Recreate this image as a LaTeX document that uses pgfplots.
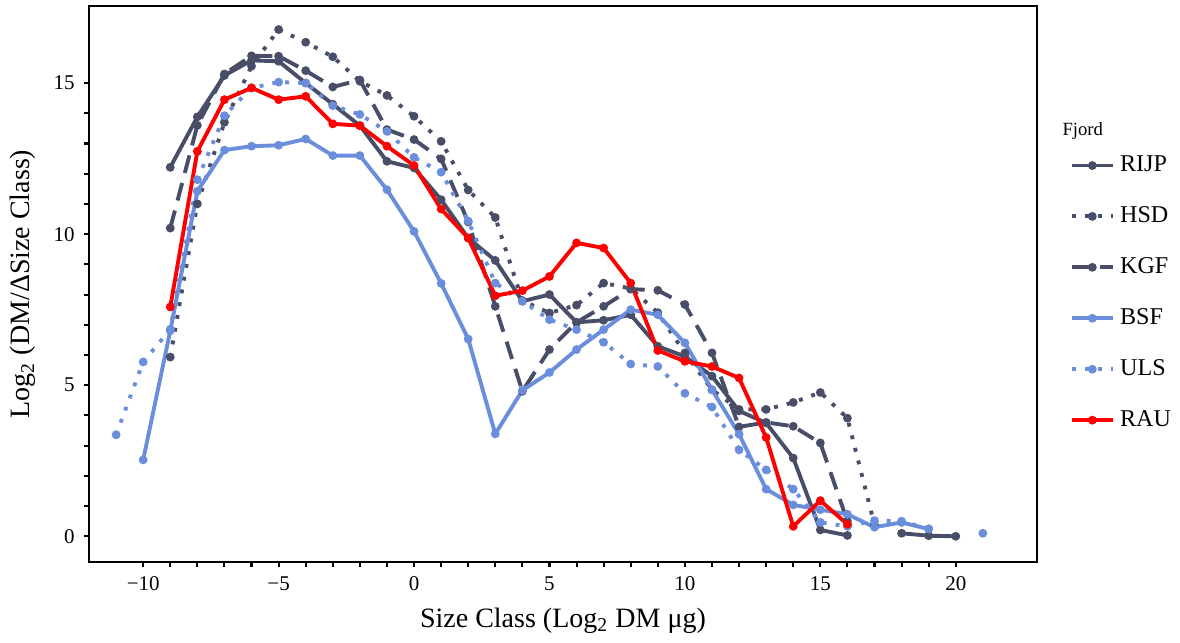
\documentclass[border=0pt]{standalone}
\usepackage{pgfplots}
\pgfplotsset{compat=1.18}
\usepackage{pgfplotstable}
\usepackage{fontspec}
\setmainfont{Liberation Serif}
\usetikzlibrary{calc}

\definecolor{dk}{RGB}{72,78,104}
\definecolor{lb}{RGB}{106,142,220}
\definecolor{rd}{RGB}{255,0,0}

% size class vs log2 biomass, one column per fjord
\pgfplotstableread{
x    RIJP   HSD    KGF    BSF    ULS    RAU
-11  nan    nan    nan    nan    3.36   nan
-10  nan    nan    nan    2.53   5.77   nan
-9   12.21  5.93   10.20  6.80   6.85   7.59
-8   13.88  11.00  13.60  11.42  11.80  12.74
-7   15.25  13.70  15.30  12.78  13.92  14.45
-6   15.75  15.56  15.90  12.91  14.84  14.84
-5   15.72  16.77  15.89  12.94  15.03  14.45
-4   15.00  16.35  15.41  13.15  15.00  14.56
-3   14.30  15.87  14.87  12.60  14.25  13.65
-2   13.59  15.06  15.10  12.60  13.96  13.59
-1   12.41  14.59  13.46  11.47  13.40  12.91
0    12.19  13.90  13.13  10.09  12.54  12.27
1    11.14  13.07  12.49  8.37   12.05  10.83
2    9.87   11.46  10.40  6.53   10.43  9.87
3    9.13   10.55  7.61   3.39   8.38   7.96
4    7.78   7.80   4.80   4.83   7.78   8.13
5    8.00   7.39   6.18   5.42   7.17   8.60
6    7.08   7.65   7.08   6.18   6.84   9.71
7    7.15   8.38   7.61   6.84   6.42   9.54
8    7.33   8.20   8.18   7.50   5.70   8.38
9    6.29   7.40   8.14   7.33   5.62   6.15
10   5.95   6.07   7.67   6.40   4.73   5.79
11   5.30   4.85   6.07   4.85   4.28   5.62
12   4.15   4.20   3.62   3.38   2.86   5.24
13   3.75   4.20   3.77   1.56   2.20   3.27
14   2.59   4.43   3.64   1.04   1.56   0.33
15   0.21   4.76   3.09   0.88   0.46   1.18
16   0.03   3.91   0.50   0.73   0.33   0.40
17   nan    0.38   nan    0.30   0.52   nan
18   0.10   nan    nan    0.46   0.50   nan
19   0.02   nan    nan    0.24   0.25   nan
20   0.00   nan    nan    nan    nan    nan
21   nan    nan    nan    nan    0.10   nan
}\fjord

\begin{document}
\begin{tikzpicture}
\begin{axis}[
  name=ax,
  scale only axis,
  width=12.854cm, height=7.539cm,
  xmin=-12, xmax=23,
  ymin=-0.85, ymax=17.55,
  xtick={-10,-5,0,5,10,15,20},
  xticklabels={−10,−5,0,5,10,15,20},
  ytick={0,5,10,15},
  minor x tick num=4,
  minor y tick num=4,
  xtick pos=lower, ytick pos=left,
  tick align=outside,
  major tick length=2pt, minor tick length=2pt,
  tick style={black, line width=0.8pt},
  axis line style={line width=1.1pt},
  /pgf/number format/assume math mode=true,
  tick label style={font=\fontsize{8.1}{9}\selectfont},
  label style={font=\fontsize{10.8}{12}\selectfont},
  xlabel={Size Class (Log\textsubscript{2} DM μg)},
  ylabel={Log\textsubscript{2} (DM/ΔSize Class)},
  unbounded coords=jump,
  clip=false,
  legend cell align=left,
  legend style={draw=none, fill=none, at={(rel axis cs:1.034,0.741)}, anchor=north west,
    font=\fontsize{9.3}{10}\selectfont, row sep=8pt, inner sep=0pt},
  legend image code/.code={\draw[mark repeat=2,mark phase=2,#1]
    plot coordinates {(0cm,0cm) (0.28cm,0cm) (0.56cm,0cm)};},
  every axis plot/.append style={line width=1.5pt, mark=*, mark size=0.9pt},
]
\addplot[dk, mark options={solid}] table[x=x, y=RIJP] {\fjord};
\addlegendentry{RIJP}
\addplot[dk, dash pattern=on 1.5pt off 3.5pt, mark options={solid}] table[x=x, y=HSD] {\fjord};
\addlegendentry{HSD}
\addplot[dk, dash pattern=on 7pt off 4pt, mark options={solid}] table[x=x, y=KGF] {\fjord};
\addlegendentry{KGF}
\addplot[lb, mark options={solid}] table[x=x, y=BSF] {\fjord};
\addlegendentry{BSF}
\addplot[lb, dash pattern=on 1.5pt off 3.5pt, mark options={solid}] table[x=x, y=ULS] {\fjord};
\addlegendentry{ULS}
\addplot[rd, mark options={solid}] table[x=x, y=RAU] {\fjord};
\addlegendentry{RAU}
\node[anchor=west, font=\fontsize{7.2}{8}\selectfont, inner sep=0pt] at (rel axis cs:1.0264,0.775) {Fjord};
\end{axis}
\path ($(ax.south west)+(-1.207cm,-0.827cm)$) rectangle ($(ax.north east)+(1.939cm,0.081cm)$);
\end{tikzpicture}
\end{document}
